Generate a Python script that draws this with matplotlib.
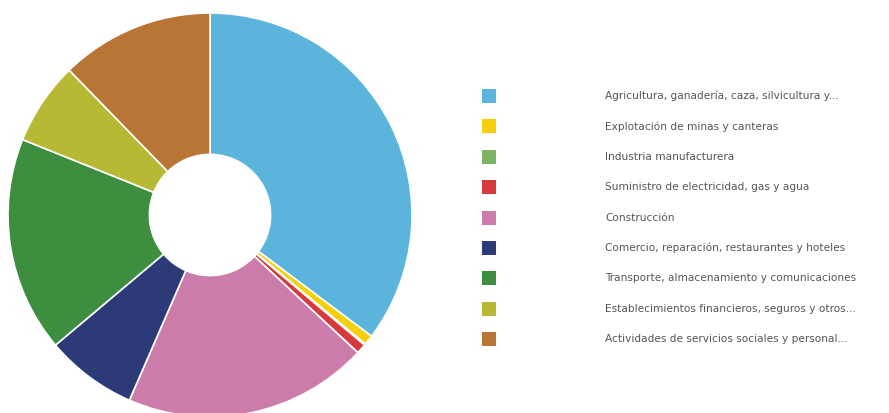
import matplotlib.pyplot as plt
from matplotlib.patches import Rectangle

# Sector shares (%) read from the donut
sectors = [
    'Agricultura, ganadería, caza, silvicultura y...',
    'Explotación de minas y canteras',
    'Industria manufacturera',
    'Suministro de electricidad, gas y agua',
    'Construcción',
    'Comercio, reparación, restaurantes y hoteles',
    'Transporte, almacenamiento y comunicaciones',
    'Establecimientos financieros, seguros y otros...',
    'Actividades de servicios sociales y personal...',
]
shares = [35.6, 0.8, 0.1, 0.8, 19.8, 7.4, 17.4, 6.7, 12.4]
colors = ['#5ab4dc', '#f5cf0c', '#7cb462', '#d63a3c', '#cc7cab',
          '#2c3b78', '#3d8f3f', '#b7b935', '#b87535']


def do_plot():
    W, H = 889, 413
    fig = plt.figure(figsize=(W / 100, H / 100), dpi=100)
    cx, cy, r = 210, 215, 202
    ax = fig.add_axes([(cx - r) / W, (H - cy - r) / H, 2 * r / W, 2 * r / H])
    ax.pie(shares, colors=colors, startangle=90, counterclock=False, radius=1,
           wedgeprops=dict(width=0.7, edgecolor='white', linewidth=1.2))
    ax.set_xlim(-1, 1)
    ax.set_ylim(-1, 1)
    ax.set_aspect('equal')
    ax.axis('off')

    # legend drawn by hand in pixel positions
    y0, step = 96, 30.4
    for i, (name, c) in enumerate(zip(sectors, colors)):
        y = y0 + i * step
        fig.patches.append(Rectangle(((482) / W, (H - y - 7) / H), 14 / W, 14 / H,
                                     transform=fig.transFigure, facecolor=c,
                                     edgecolor='none'))
        fig.text(605 / W, (H - y) / H, name, fontsize=7.6, color='#555555',
                 va='center', ha='left')

    fig.savefig('out.png', dpi=100)


if __name__ == '__main__':
    do_plot()
